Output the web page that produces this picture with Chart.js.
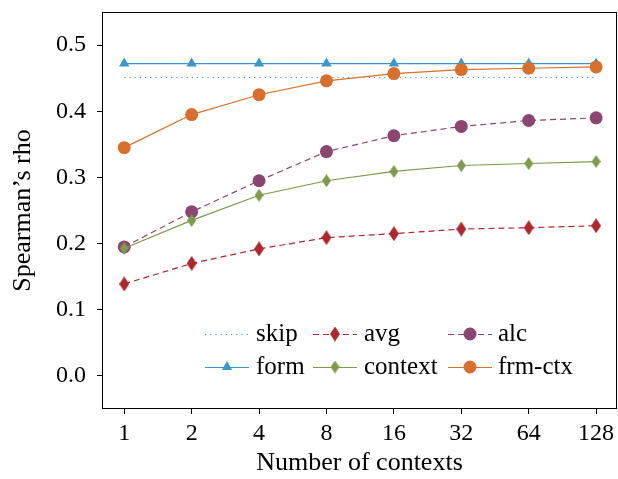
<!DOCTYPE html>
<html>
<head>
<meta charset="utf-8">
<script src="https://cdn.jsdelivr.net/npm/chart.js@4.4.1/dist/chart.umd.min.js"></script>
<style>
  html, body { margin: 0; padding: 0; background: #fff; }
</style>
</head>
<body>
<canvas id="chart" width="618" height="479"></canvas>
<script>
const contexts = ['1', '2', '4', '8', '16', '32', '64', '128'];
const yTicks = [0.0, 0.1, 0.2, 0.3, 0.4, 0.5];

const skip   = [0.451, 0.451, 0.451, 0.451, 0.451, 0.451, 0.451, 0.451];
const form   = [0.472, 0.472, 0.472, 0.472, 0.472, 0.472, 0.472, 0.472];
const avg    = [0.139, 0.170, 0.192, 0.209, 0.215, 0.222, 0.224, 0.227];
const alc    = [0.195, 0.248, 0.295, 0.339, 0.363, 0.377, 0.386, 0.390];
const context = [0.193, 0.235, 0.273, 0.295, 0.309, 0.318, 0.321, 0.324];
const frmCtx = [0.345, 0.395, 0.425, 0.446, 0.457, 0.463, 0.465, 0.467];

const BLUE = '#3b96d0';
const RED = '#b0272b';
const PURPLE = '#8a4570';
const GREEN = '#7d9b4a';
const ORANGE = '#d8702b';

const FONT = "'Liberation Serif', 'DejaVu Serif', serif";

function diamond(color, w, h) {
    const c = document.createElement('canvas');
    c.width = w;
    c.height = h;
    const g = c.getContext('2d');
    g.fillStyle = color;
    g.beginPath();
    g.moveTo(w / 2, 0);
    g.lineTo(w, h / 2);
    g.lineTo(w / 2, h);
    g.lineTo(0, h / 2);
    g.closePath();
    g.fill();
    return c;
}

const redDiamond = diamond(RED, 10, 15);
const greenDiamond = diamond(GREEN, 9, 13);

function pts(values) {
    return values.map((v, i) => ({ x: i, y: v }));
}

function series(label, values, color, extra) {
    return Object.assign({
        label: label,
        data: pts(values),
        borderColor: color,
        backgroundColor: color,
        pointBackgroundColor: color,
        pointBorderColor: color,
        borderWidth: 1.2,
        pointBorderWidth: 0,
        pointRadius: 6,
        pointHoverRadius: 6,
        tension: 0,
        fill: false
    }, extra);
}

const datasets = [
    series('skip', skip, BLUE, { borderDash: [1.2, 4], pointRadius: 0, pointStyle: false, order: 5 }),
    series('avg', avg, RED, { borderDash: [6, 4], pointStyle: redDiamond, order: 4 }),
    series('alc', alc, PURPLE, { borderDash: [6, 4], pointStyle: 'circle', pointRadius: 6.5, order: 3 }),
    series('form', form, BLUE, { pointStyle: 'triangle', order: 2 }),
    series('context', context, GREEN, { pointStyle: greenDiamond, order: 1 }),
    series('frm-ctx', frmCtx, ORANGE, { pointStyle: 'circle', pointRadius: 6.5, order: 0 })
];

// legend grid: row-major, 3 columns
const legendCols = [
    { x0: 205, x1: 249, tx: 256 },
    { x0: 313, x1: 357, tx: 364 },
    { x0: 448, x1: 492, tx: 498 }
];
const legendRows = [334, 367];

function drawMarker(ctx, ds, x, y) {
    const st = ds.pointStyle;
    if (!st) return;
    ctx.save();
    ctx.fillStyle = ds.pointBackgroundColor;
    if (st instanceof HTMLCanvasElement) {
        ctx.drawImage(st, x - st.width / 2, y - st.height / 2);
    } else if (st === 'circle') {
        ctx.beginPath();
        ctx.arc(x, y, ds.pointRadius, 0, Math.PI * 2);
        ctx.fill();
    } else if (st === 'triangle') {
        const r = ds.pointRadius;
        ctx.beginPath();
        ctx.moveTo(x, y - r);
        ctx.lineTo(x + r * Math.sin(Math.PI * 2 / 3), y - r * Math.cos(Math.PI * 2 / 3));
        ctx.lineTo(x + r * Math.sin(Math.PI * 4 / 3), y - r * Math.cos(Math.PI * 4 / 3));
        ctx.closePath();
        ctx.fill();
    }
    ctx.restore();
}

const framePlugin = {
    id: 'frame',
    afterDraw(chart) {
        const ctx = chart.ctx;
        const a = chart.chartArea;
        ctx.save();
        ctx.strokeStyle = '#000';
        ctx.lineWidth = 1;
        ctx.strokeRect(Math.round(a.left) + 0.5, Math.round(a.top) + 0.5,
            Math.round(a.right - a.left) - 1, Math.round(a.bottom - a.top) - 1);
        ctx.restore();
    }
};

const legendPlugin = {
    id: 'gridLegend',
    afterDatasetsDraw(chart) {
        const ctx = chart.ctx;
        chart.data.datasets.forEach((ds, i) => {
            const col = legendCols[i % 3];
            const y = legendRows[Math.floor(i / 3)];
            ctx.save();
            ctx.strokeStyle = ds.borderColor;
            ctx.lineWidth = ds.borderWidth;
            ctx.setLineDash(ds.borderDash || []);
            ctx.beginPath();
            ctx.moveTo(col.x0, y + 0.5);
            ctx.lineTo(col.x1, y + 0.5);
            ctx.stroke();
            ctx.restore();
            drawMarker(ctx, ds, (col.x0 + col.x1) / 2, y);
            ctx.save();
            ctx.fillStyle = '#000';
            ctx.font = '25px ' + FONT;
            ctx.textBaseline = 'alphabetic';
            ctx.textAlign = 'left';
            ctx.fillText(ds.label, col.tx, y + 7);
            ctx.restore();
        });
    }
};

function noPad(s) {
    s.paddingLeft = 0;
    s.paddingRight = 0;
    s.paddingTop = 0;
    s.paddingBottom = 0;
}

new Chart(document.getElementById('chart'), {
    type: 'line',
    data: { datasets: datasets },
    options: {
        responsive: false,
        animation: false,
        events: [],
        layout: { autoPadding: false, padding: { top: 12, right: 1, left: 0, bottom: 0 } },
        plugins: {
            legend: { display: false },
            tooltip: { enabled: false }
        },
        scales: {
            x: {
                type: 'linear',
                min: -0.33,
                max: 7.31,
                afterFit: s => { s.height = 70; noPad(s); },
                afterBuildTicks: s => { s.ticks = contexts.map((c, i) => ({ value: i })); },
                ticks: {
                    callback: v => contexts[v],
                    color: '#000',
                    font: { family: FONT, size: 24 },
                    padding: 5,
                    maxRotation: 0
                },
                grid: { drawOnChartArea: false, drawTicks: true, tickLength: 5, color: '#000' },
                border: { display: false },
                title: {
                    display: true,
                    text: 'Number of contexts',
                    color: '#000',
                    font: { family: FONT, size: 26 },
                    padding: { top: 0, bottom: 0 }
                }
            },
            y: {
                min: -0.05,
                max: 0.55,
                afterFit: s => { s.width = 102; noPad(s); },
                afterBuildTicks: s => { s.ticks = yTicks.map(v => ({ value: v })); },
                ticks: {
                    callback: v => v.toFixed(1),
                    color: '#000',
                    font: { family: FONT, size: 24 },
                    padding: 11
                },
                grid: { drawOnChartArea: false, drawTicks: true, tickLength: 5, color: '#000' },
                border: { display: false },
                title: {
                    display: true,
                    text: 'Spearman\u2019s rho',
                    color: '#000',
                    font: { family: FONT, size: 26 },
                    padding: { top: 8, bottom: 0 }
                }
            }
        }
    },
    plugins: [framePlugin, legendPlugin]
});
</script>
</body>
</html>
